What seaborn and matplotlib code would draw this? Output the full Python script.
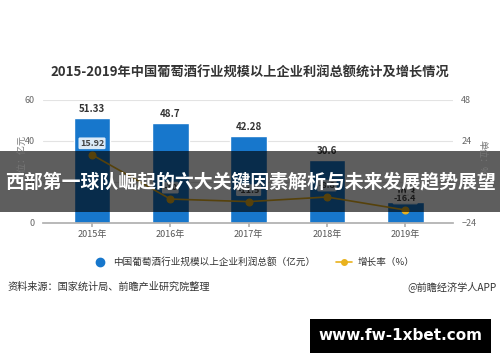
import matplotlib
matplotlib.use("Agg")
import matplotlib.pyplot as plt
from matplotlib.lines import Line2D
from matplotlib.patches import Rectangle
import seaborn as sns

years = ["2015年", "2016年", "2017年", "2018年", "2019年"]
profit = [51.33, 48.7, 42.28, 30.6, 10.3]
growth = [15.92, -10.0, -11.5, -8.8, -16.4]
left_ticks = [0, 20, 40, 60]
right_ticks = [-24, 0, 24, 48]

BAR = "#1777cc"
LINE = "#e9b21e"

sns.set_theme(style="white")
plt.rcParams["font.family"] = ["Noto Sans CJK SC", "DejaVu Sans"]

fig = plt.figure(figsize=(5, 3.62), dpi=100)
ax = fig.add_axes([0.086, 0.384, 0.82, 0.34])

sns.barplot(x=years, y=profit, color=BAR, saturation=1, width=0.47, ax=ax)
ax.set_ylim(0, 60)
ax.set_xlim(-0.626, 4.61)
ax.set_yticks(left_ticks)
ax.grid(axis="y", color="#e3e3e3", linewidth=0.8)
ax.set_axisbelow(True)
for s in ["top", "left", "right"]:
    ax.spines[s].set_visible(False)
ax.spines["bottom"].set_color("#b0b0b0")
ax.tick_params(axis="y", length=0, labelsize=6.5, labelcolor="#666666", pad=6)
ax.tick_params(axis="x", length=3, color="#b0b0b0", labelsize=6.5, labelcolor="#555555", pad=2, bottom=True)
ax.set_xlabel("")
ax.set_ylabel("")
for i, v in enumerate(profit):
    ax.annotate(f"{v:g}", (i, v), xytext=(0, 3), textcoords="offset points",
                ha="center", va="bottom", fontsize=7, fontweight="bold", color="#333333")

ax2 = ax.twinx()
sns.lineplot(x=years, y=growth, ax=ax2, color=LINE, marker="o", markersize=5,
             markeredgecolor=LINE, linewidth=1.2, sort=False)
ax2.set_ylim(-24, 48)
ax2.set_yticks(right_ticks)
for s in ["top", "left", "right", "bottom"]:
    ax2.spines[s].set_visible(False)
ax2.tick_params(axis="y", length=0, labelsize=6.5, labelcolor="#666666", pad=6)
ax2.set_ylabel("")
for i, v in enumerate(growth):
    ax2.annotate(f"{v:g}", (i, v), xytext=(0, 5), textcoords="offset points",
                 ha="center", va="bottom", fontsize=6.5, fontweight="bold", color="#444444",
                 bbox=dict(boxstyle="round,pad=0.15", fc="white", ec="none", alpha=0.85))

fig.text(0.5, 1 - 73 / 362, "2015-2019年中国葡萄酒行业规模以上企业利润总额统计及增长情况",
         ha="center", va="center", fontsize=9.5, fontweight="bold", color="#333333")
fig.text(22 / 500, 1 - 158 / 362, "单位：亿元", rotation=90, ha="center", va="center",
         fontsize=6.5, color="#777777")
fig.text(482 / 500, 1 - 158 / 362, "单位：%", rotation=-90, ha="center", va="center",
         fontsize=6.5, color="#777777")

handles = [
    Line2D([], [], linestyle="none", marker="o", markersize=6, color=BAR),
    Line2D([], [], color=LINE, marker="o", markersize=4, linewidth=1.2),
]
fig.legend(handles, ["中国葡萄酒行业规模以上企业利润总额（亿元）", "增长率（%）"],
           loc="center", bbox_to_anchor=(0.506, 1 - 262 / 362), ncol=2, frameon=False,
           fontsize=6.9, handlelength=1.6, columnspacing=2.2, handletextpad=0.6,
           labelcolor="#333333")

fig.text(7 / 500, 1 - 287 / 362, "资料来源：国家统计局、前瞻产业研究院整理",
         ha="left", va="center", fontsize=7.3, color="#333333")
fig.text(497 / 500, 1 - 287 / 362, "@前瞻经济学人APP",
         ha="right", va="center", fontsize=7.3, color="#333333")

# overlay banner
fig.add_artist(Rectangle((0, 1 - 212 / 362), 1, 61 / 362, transform=fig.transFigure,
                         facecolor="black", alpha=0.63, edgecolor="none"))
fig.text(0.5, 1 - 182 / 362, "西部第一球队崛起的六大关键因素解析与未来发展趋势展望",
         ha="center", va="center", fontsize=13.6, fontweight="bold", color="white")

fig.add_artist(Rectangle((310 / 500, 1 - 353 / 362), 181 / 500, 34 / 362,
                         transform=fig.transFigure, facecolor="black", edgecolor="none"))
fig.text(400 / 500, 1 - 336 / 362, "www.fw-1xbet.com", ha="center", va="center",
         fontsize=11, fontweight="bold", color="white", family="DejaVu Sans")

fig.savefig("out.png", dpi=100)
